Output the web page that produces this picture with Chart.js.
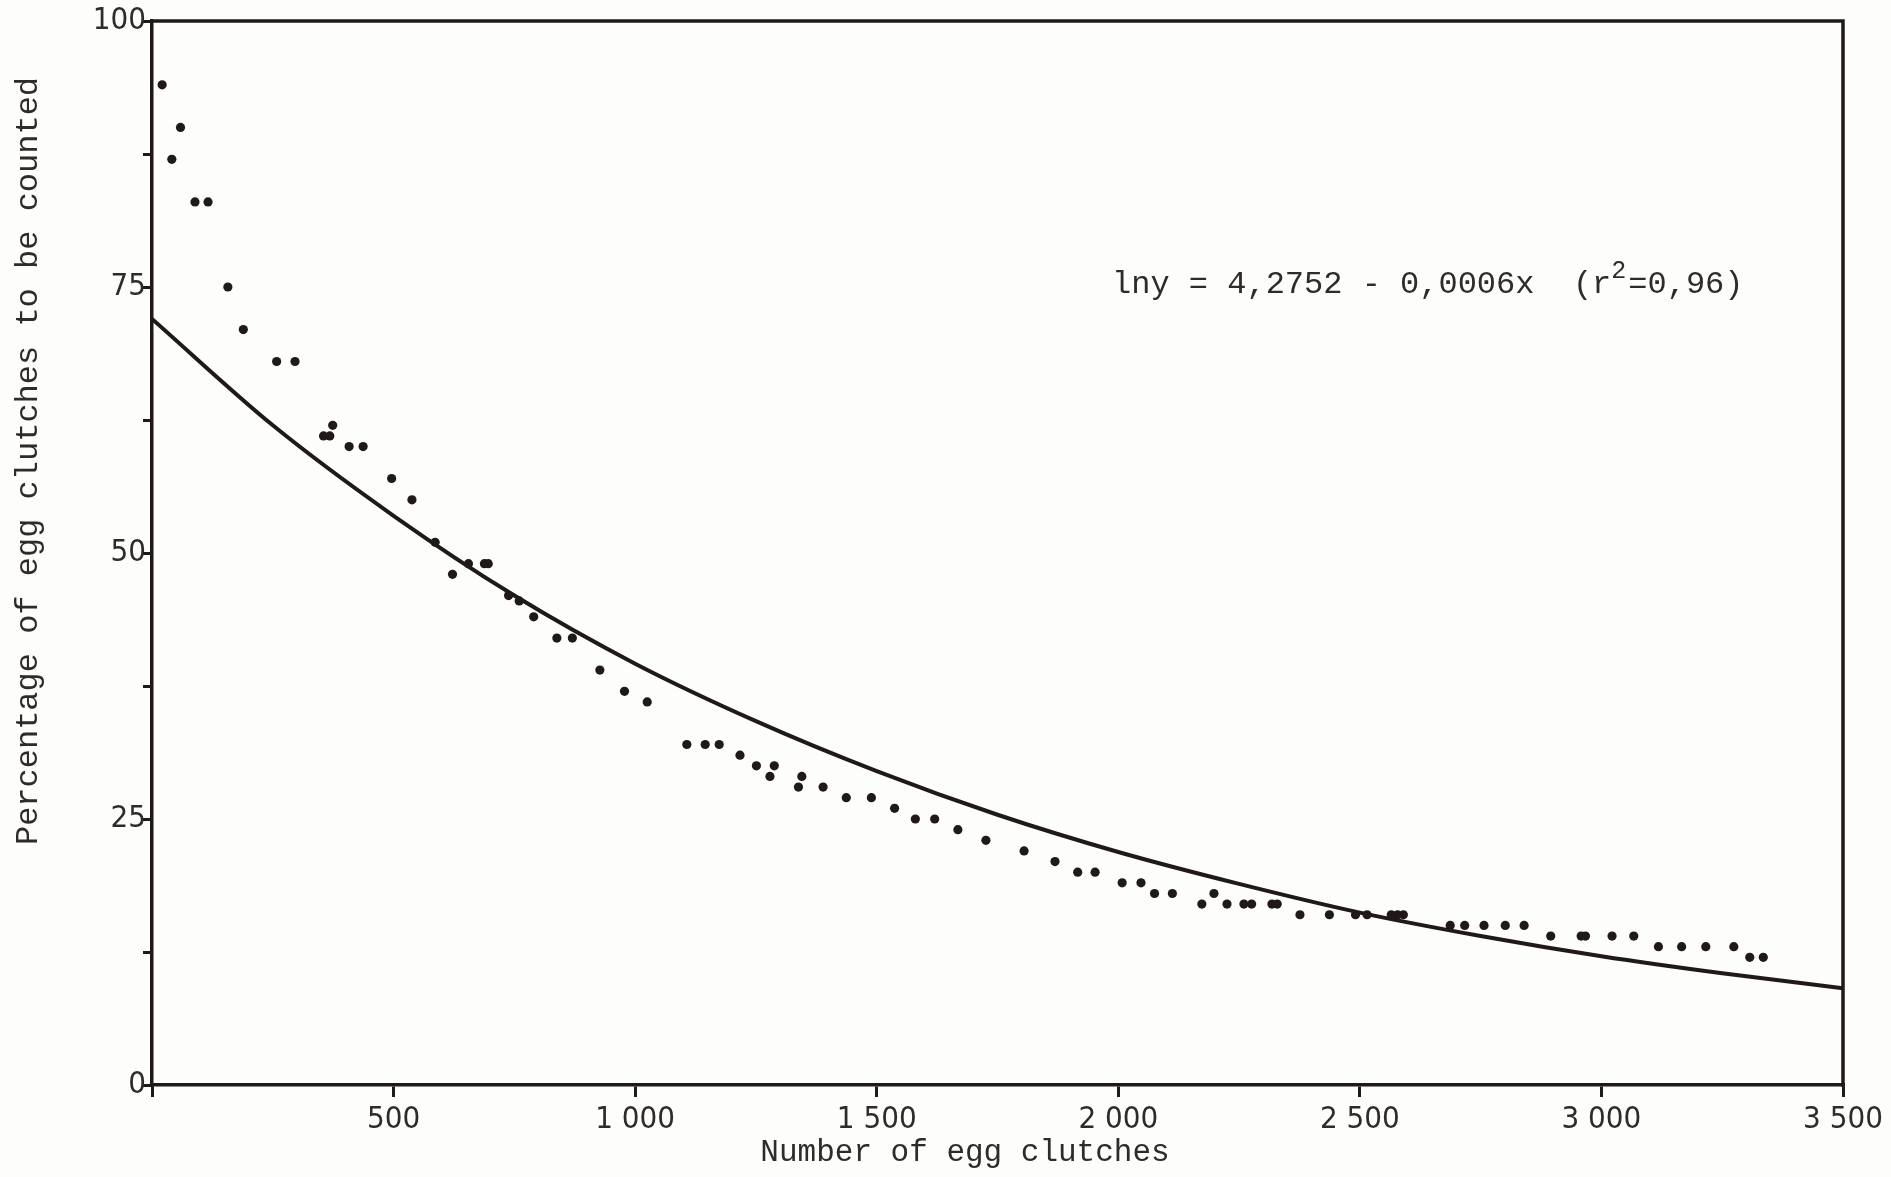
<!DOCTYPE html>
<html>
<head>
<meta charset="utf-8">
<script src="https://cdn.jsdelivr.net/npm/chart.js@4.4.1/dist/chart.umd.min.js"></script>
<style>
  html, body { margin: 0; padding: 0; background: #fdfdfb; }
  #wrap { width: 1891px; height: 1177px; position: relative; }
  canvas { display: block; }
</style>
</head>
<body>
<div id="wrap"><canvas id="c" width="1891" height="1177"></canvas></div>
<script>
// ---- Data ----
const clutchCounts = [21, 41, 59, 89, 116, 157, 189, 258, 296, 355, 368, 374, 408, 437, 496, 538, 586, 622, 655, 688, 696, 738, 760, 790, 838, 870, 927, 978, 1025, 1107, 1145, 1174, 1217, 1251, 1279, 1288, 1338, 1345, 1389, 1437, 1489, 1537, 1580, 1620, 1668, 1726, 1805, 1869, 1916, 1952, 2008, 2047, 2075, 2112, 2173, 2198, 2225, 2260, 2276, 2318, 2329, 2376, 2437, 2491, 2515, 2565, 2578, 2590, 2687, 2717, 2757, 2801, 2840, 2895, 2958, 2967, 3022, 3067, 3118, 3166, 3216, 3274, 3307, 3335];
const percentCounted = [94, 87, 90, 83, 83, 75, 71, 68, 68, 61, 61, 62, 60, 60, 57, 55, 51, 48, 49, 49, 49, 46, 45.5, 44, 42, 42, 39, 37, 36, 32, 32, 32, 31, 30, 29, 30, 28, 29, 28, 27, 27, 26, 25, 25, 24, 23, 22, 21, 20, 20, 19, 19, 18, 18, 17, 18, 17, 17, 17, 17, 17, 16, 16, 16, 16, 16, 16, 16, 15, 15, 15, 15, 15, 14, 14, 14, 14, 14, 13, 13, 13, 13, 12, 12];
const fitX = [0, 250, 500, 750, 1000, 1250, 1500, 1750, 2000, 2250, 2500, 2750, 3000, 3250, 3500];
const fitY = [72, 62, 53.5, 46, 39.6, 34.2, 29.5, 25.4, 21.9, 18.9, 16.2, 14.0, 12.1, 10.5, 9.1];
const yLabelValues = [0, 25, 50, 75, 100];
const xTitle = "Number of egg clutches";
const yTitle = "Percentage of egg clutches to be counted";
const equationMain = "lny = 4,2752 - 0,0006x  (r";
const equationSup = "2";
const equationEnd = "=0,96)";

const INK = '#1f1a18';
const LABEL = '#2e2b29';
const tickFont = "'DejaVu Sans Condensed', 'Liberation Sans Narrow', 'DejaVu Sans', sans-serif";
const typeFont = "'Liberation Mono', 'DejaVu Sans Mono', monospace";

function fmtThousands(v) {
  if (v === 0) return '';
  if (v >= 1000) return Math.floor(v / 1000) + ' ' + String(v % 1000).padStart(3, '0');
  return String(v);
}

const decor = {
  id: 'decor',
  afterDraw(chart) {
    const { ctx, chartArea: a } = chart;
    ctx.save();
    // top and right frame lines
    ctx.strokeStyle = INK;
    ctx.lineWidth = 3.5;
    ctx.lineCap = 'square';
    ctx.beginPath();
    ctx.moveTo(a.left, a.top);
    ctx.lineTo(a.right, a.top);
    ctx.lineTo(a.right, a.bottom);
    ctx.stroke();

    // axis titles
    ctx.fillStyle = LABEL;
    ctx.font = "31px " + typeFont;
    ctx.textAlign = 'center';
    ctx.textBaseline = 'middle';
    ctx.fillText(xTitle, 965, 1153);

    ctx.save();
    ctx.translate(29, 461);
    ctx.rotate(-Math.PI / 2);
    ctx.font = "32px " + typeFont;
    ctx.fillText(yTitle, 0, 0);
    ctx.restore();

    // regression equation
    ctx.textAlign = 'left';
    ctx.textBaseline = 'alphabetic';
    ctx.fillStyle = LABEL;
    ctx.font = "32px " + typeFont;
    let x = 1112;
    const base = 293;
    ctx.fillText(equationMain, x, base);
    x += ctx.measureText(equationMain).width;
    ctx.font = "25px " + typeFont;
    ctx.fillText(equationSup, x, base - 15);
    x += ctx.measureText(equationSup).width + 2;
    ctx.font = "32px " + typeFont;
    ctx.fillText(equationEnd, x, base);
    ctx.restore();
  }
};

new Chart(document.getElementById('c'), {
  type: 'scatter',
  data: {
    datasets: [
      {
        label: 'observed',
        data: clutchCounts.map((x, i) => ({ x: x, y: percentCounted[i] })),
        pointRadius: 4.6,
        pointBackgroundColor: INK,
        pointBorderWidth: 0,
        showLine: false
      },
      {
        label: 'fit',
        data: fitX.map((x, i) => ({ x: x, y: fitY[i] })),
        showLine: true,
        pointRadius: 0,
        borderColor: INK,
        borderWidth: 4,
        cubicInterpolationMode: 'monotone',
        fill: false
      }
    ]
  },
  options: {
    responsive: false,
    animation: false,
    devicePixelRatio: 1,
    layout: { padding: { left: 0, top: 21, right: 48, bottom: 0 } },
    plugins: { legend: { display: false }, tooltip: { enabled: false } },
    scales: {
      x: {
        type: 'linear',
        min: 0,
        max: 3500,
        afterFit(s) { s.height = 92; },
        border: { display: true, color: INK, width: 3.5 },
        grid: { drawOnChartArea: false, drawTicks: true, tickLength: 12, color: INK, lineWidth: 3 },
        ticks: {
          stepSize: 500,
          autoSkip: false,
          maxRotation: 0,
          padding: 4,
          color: LABEL,
          font: { family: tickFont, size: 31 },
          callback: (v) => fmtThousands(v)
        }
      },
      y: {
        type: 'linear',
        min: 0,
        max: 100,
        afterFit(s) { s.width = 152; },
        border: { display: true, color: INK, width: 3.5 },
        grid: { drawOnChartArea: false, drawTicks: true, tickLength: 9, color: INK, lineWidth: 3 },
        ticks: {
          stepSize: 12.5,
          autoSkip: false,
          padding: -3,
          color: LABEL,
          font: { family: tickFont, size: 31 },
          callback: (v) => (yLabelValues.includes(v) ? String(v) : '')
        }
      }
    }
  },
  plugins: [decor]
});
</script>
</body>
</html>
